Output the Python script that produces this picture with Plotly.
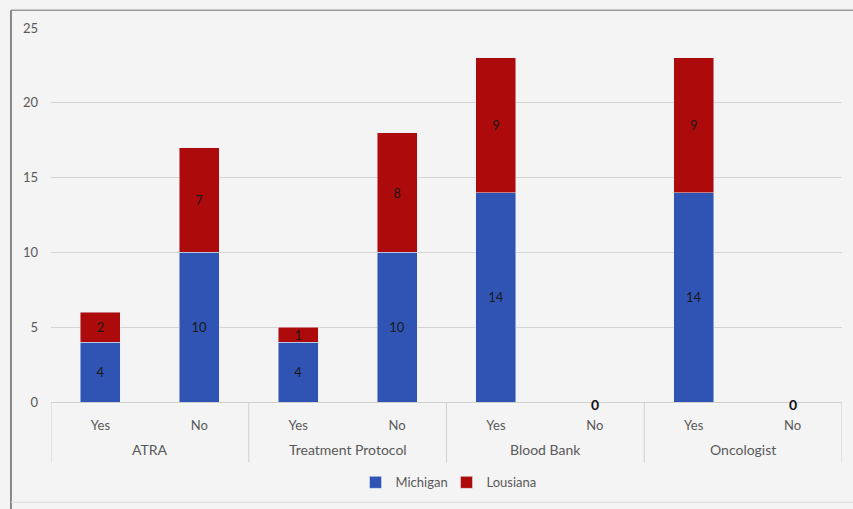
import plotly.graph_objects as go

groups = ["ATRA", "ATRA", "Treatment Protocol", "Treatment Protocol",
          "Blood Bank", "Blood Bank", "Oncologist", "Oncologist"]
answers = ["Yes", "No", "Yes", "No", "Yes", "No", "Yes", "No"]
michigan = [4, 10, 4, 10, 14, 0, 14, 0]
lousiana = [2, 7, 1, 8, 9, 0, 9, 0]
y_ticks = [0, 5, 10, 15, 20, 25]

BLUE = "#2F54B4"
RED = "#AD0B0B"
BG = "#F4F4F4"
FONT = "Lato, Open Sans, sans-serif"
AXC = "#D0D0D0"

pos = list(range(len(answers)))

def labels(vals):
    return [str(v) if v != 0 else "" for v in vals]

fig = go.Figure()
for name, vals, col in [("Michigan", michigan, BLUE), ("Lousiana", lousiana, RED)]:
    fig.add_trace(go.Bar(x=pos, y=vals, name=name, marker_color=col, width=0.405,
                         text=labels(vals), textposition="inside",
                         insidetextanchor="middle", textangle=0,
                         constraintext="none", cliponaxis=False,
                         textfont=dict(color="#1a1a1a", size=13, family=FONT)))

annotations = []
# zero-total labels
for p, m, l in zip(pos, michigan, lousiana):
    if m + l == 0:
        annotations.append(dict(x=p, y=m + l, xref="x", yref="y", text=str(m + l),
                                showarrow=False, yshift=-2,
                                font=dict(color="#111111", size=14, family=FONT,
                                          weight="bold")))

# group labels and dividers
group_names = []
for g in groups:
    if g not in group_names:
        group_names.append(g)
shapes = []
for g in group_names:
    idx = [p for p, gg in zip(pos, groups) if gg == g]
    annotations.append(dict(x=sum(idx) / len(idx), y=-0.127, xref="x", yref="paper",
                            text=g, showarrow=False, yanchor="middle",
                            font=dict(size=14, color="#595959", family=FONT)))
    shapes.append(dict(type="line", xref="x", yref="paper", x0=min(idx) - 0.5,
                       x1=min(idx) - 0.5, y0=0, y1=-0.162,
                       line=dict(color=AXC, width=1)))
shapes.append(dict(type="line", xref="x", yref="paper", x0=pos[-1] + 0.5,
                   x1=pos[-1] + 0.5, y0=0, y1=-0.162, line=dict(color=AXC, width=1)))

# outer frame
shapes += [
    dict(type="line", xref="paper", yref="paper", x0=-0.0506, x1=1.02,
         y0=1.0477, y1=1.0477, line=dict(color="#9A9A9A", width=1.5)),
    dict(type="line", xref="paper", yref="paper", x0=-0.0506, x1=-0.0506,
         y0=1.0477, y1=-0.3, line=dict(color="#666666", width=1.5)),
    dict(type="line", xref="paper", yref="paper", x0=-0.0506, x1=1.02,
         y0=-0.268, y1=-0.268, line=dict(color="#DDDDDD", width=1)),
]

fig.update_layout(
    width=853, height=509,
    barmode="stack",
    paper_bgcolor=BG, plot_bgcolor=BG,
    margin=dict(l=51, r=11, t=28, b=104),
    font=dict(family=FONT, color="#595959", size=13),
    uniformtext=dict(mode="show", minsize=8),
    legend=dict(orientation="h", x=0.5, xanchor="center", y=-0.215, yanchor="middle",
                font=dict(size=13, color="#595959"), bgcolor="rgba(0,0,0,0)",
                itemwidth=30, traceorder="normal",
                entrywidth=46, entrywidthmode="pixels"),
    xaxis=dict(range=[-0.5, len(pos) - 0.5], tickvals=pos, ticktext=answers,
               showline=True, linecolor=AXC, linewidth=1, ticks="",
               ticklabelstandoff=11, zeroline=False,
               tickfont=dict(size=13, color="#595959"), showgrid=False),
    yaxis=dict(range=[0, 25], tickvals=y_ticks, showgrid=True, gridcolor="#D4D4D4",
               gridwidth=1, zeroline=False, showline=False,
               tickfont=dict(size=13, color="#595959"), ticklabelstandoff=12),
    shapes=shapes,
    annotations=annotations,
)

fig.write_html("out.html")
